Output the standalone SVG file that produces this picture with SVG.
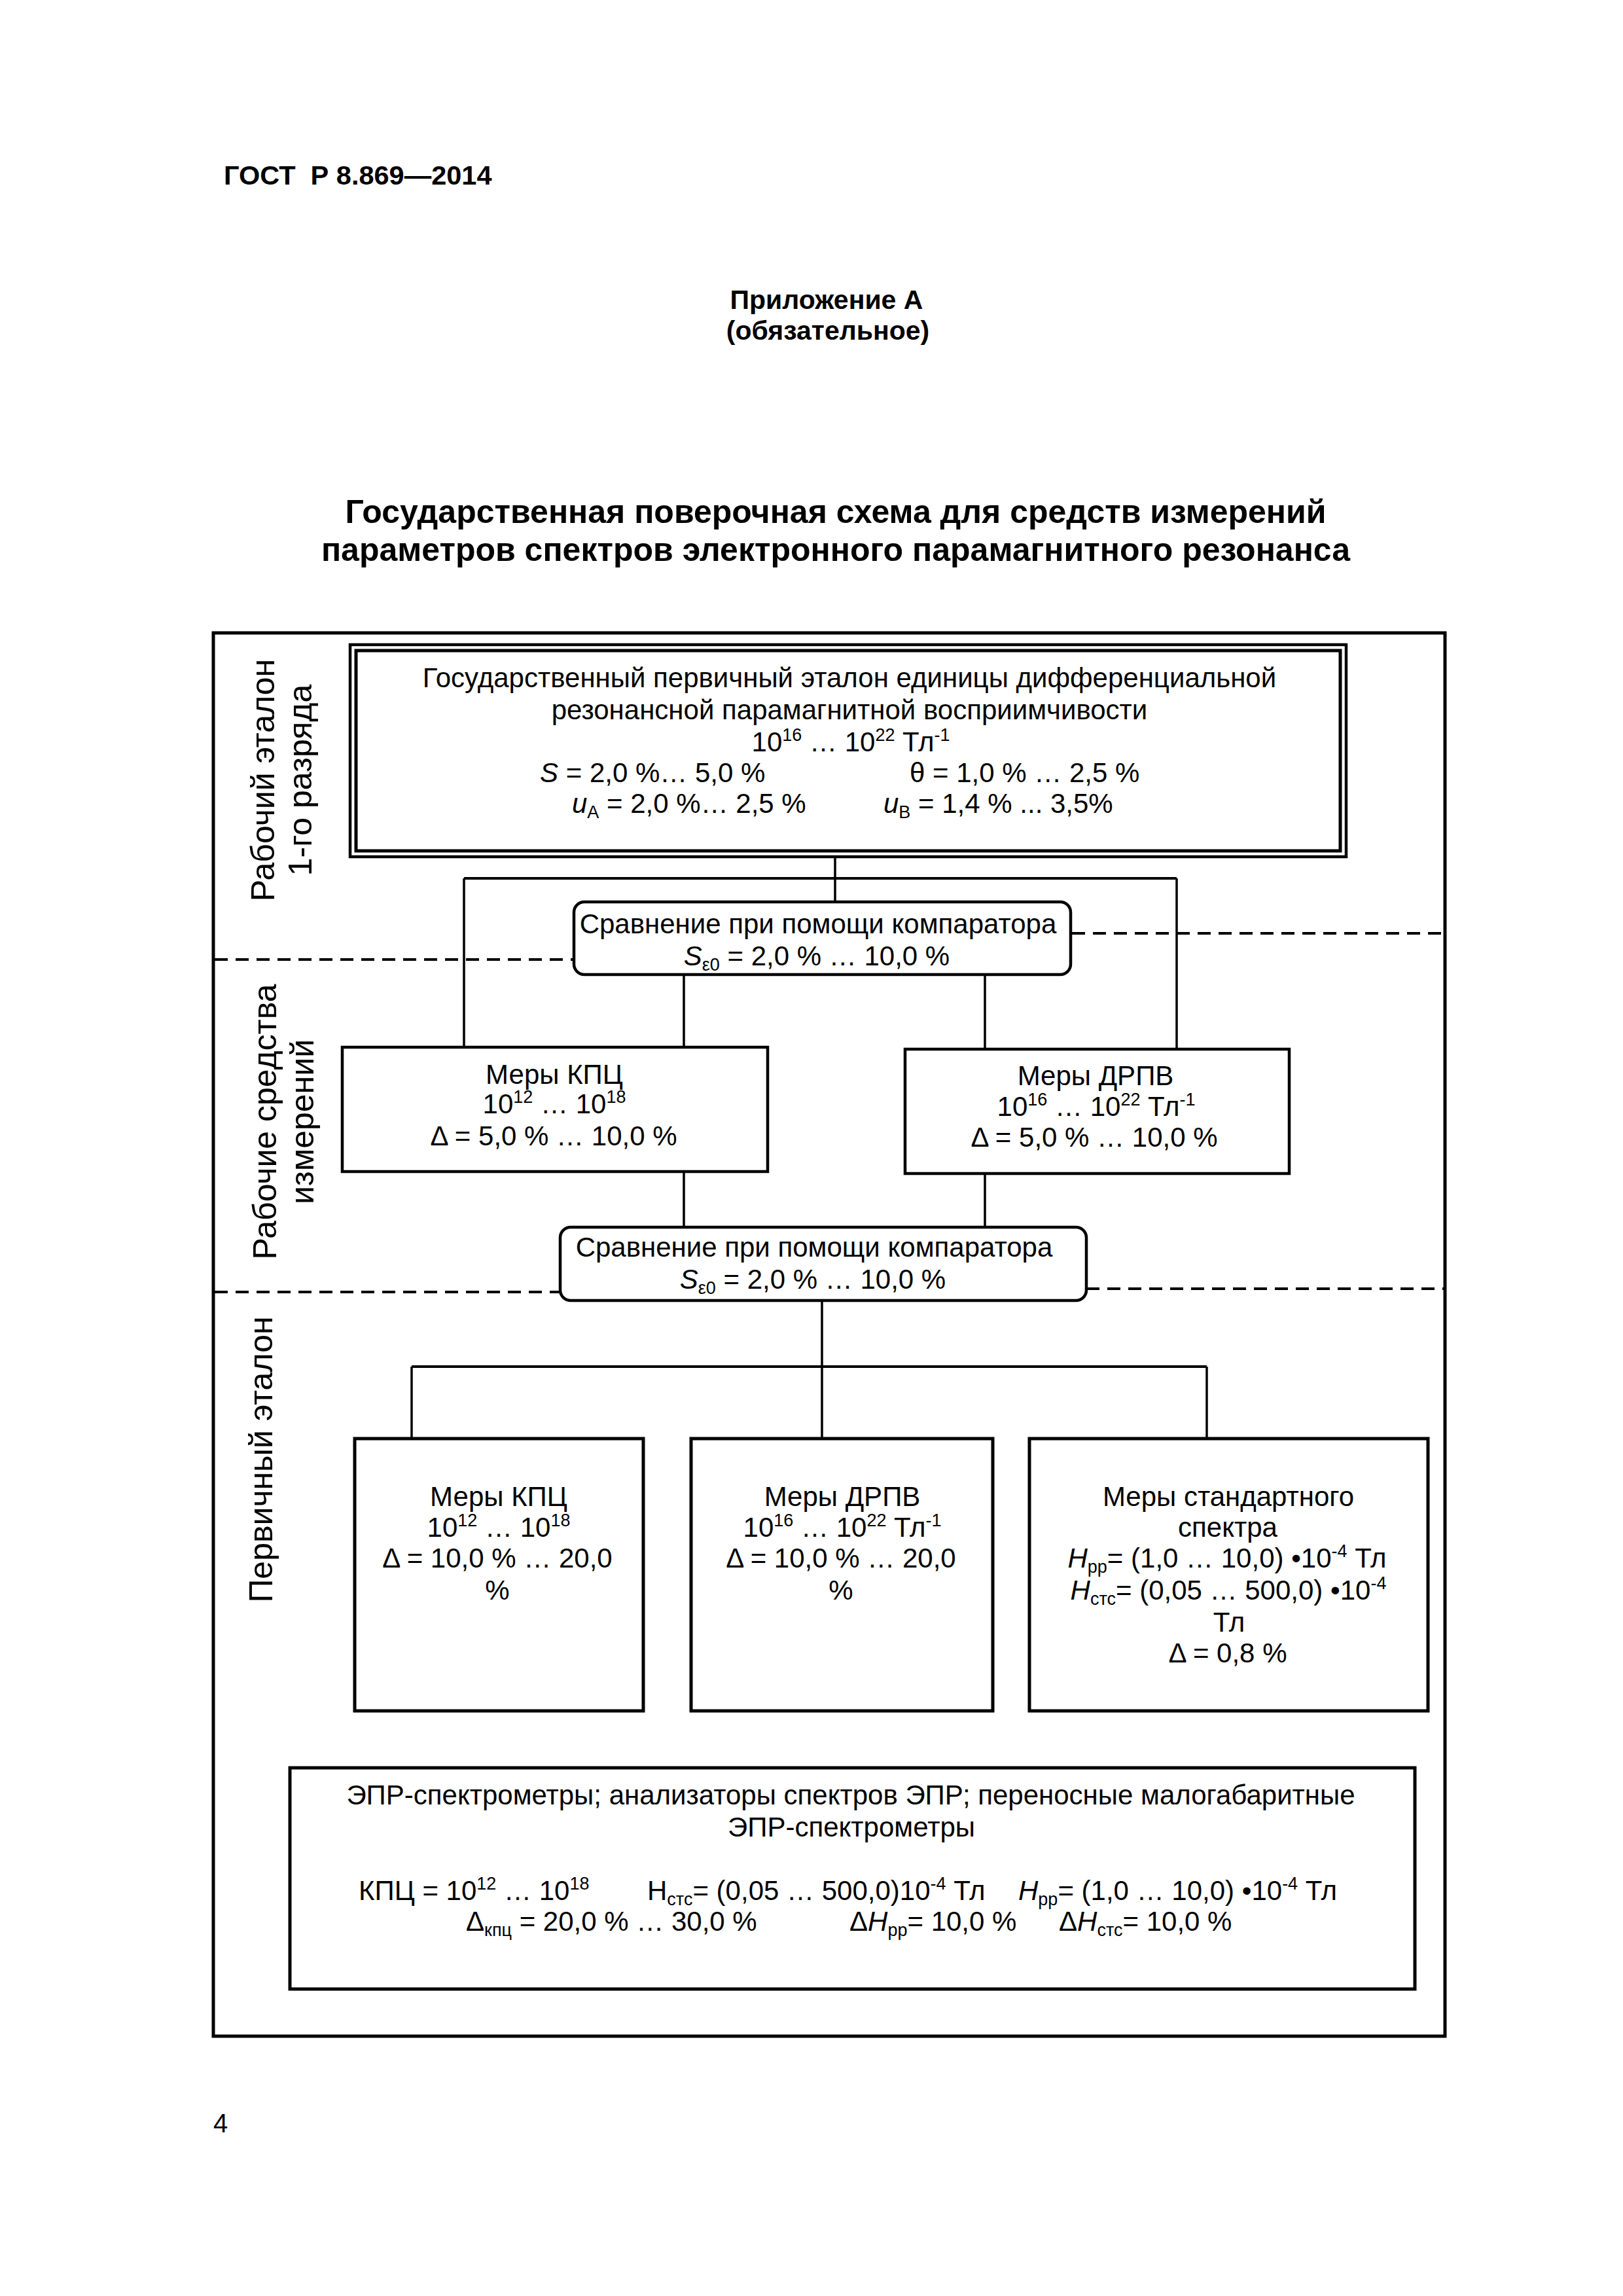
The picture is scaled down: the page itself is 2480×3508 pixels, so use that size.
<svg xmlns="http://www.w3.org/2000/svg" width="2480" height="3508" viewBox="0 0 2480 3508">
<style>
text{font-family:"Liberation Sans",Arial,sans-serif;fill:#000}
.t{font-size:42px}
.c{text-anchor:middle}
.b{font-weight:bold}
.i{font-style:italic}
.s{font-size:27px}
.lbl{font-size:50px;text-anchor:middle}
.box{fill:#fff;stroke:#000;stroke-width:4.5}
.thick{fill:none;stroke:#000;stroke-width:5}
.conn{fill:none;stroke:#000;stroke-width:3.5}
.hconn{fill:none;stroke:#000;stroke-width:4}
.dash{fill:none;stroke:#000;stroke-width:4;stroke-dasharray:20 12}
</style>
<rect width="2480" height="3508" fill="#fff"/>

<g id="header">
<text class="b" x="342" y="282" font-size="41.5">ГОСТ&#160; Р 8.869—2014</text>
<text class="b c" x="1263" y="472" font-size="41">Приложение А</text>
<text class="b c" x="1265" y="519" font-size="41">(обязательное)</text>
<text class="b c" x="1277" y="799" font-size="50">Государственная поверочная схема для средств измерений</text>
<text class="b c" x="1277" y="857" font-size="50">параметров спектров электронного парамагнитного резонанса</text>
</g>

<g id="frame">
<rect x="326" y="967" width="1882" height="2144" class="thick"/>
</g>

<g id="section-labels">
<text class="lbl" transform="translate(419,1192) rotate(-90)">Рабочий эталон</text>
<text class="lbl" transform="translate(476,1192) rotate(-90)">1-го разряда</text>
<text class="lbl" transform="translate(422,1714) rotate(-90)">Рабочие средства</text>
<text class="lbl" transform="translate(479,1714) rotate(-90)">измерений</text>
<text class="lbl" transform="translate(416,2230) rotate(-90)">Первичный эталон</text>
</g>

<g id="connectors">
<line x1="1276" y1="1309" x2="1276" y2="1378" class="conn"/>
<line x1="709" y1="1342" x2="1798" y2="1342" class="hconn"/>
<line x1="709" y1="1342" x2="709" y2="1600" class="conn"/>
<line x1="1798" y1="1342" x2="1798" y2="1603" class="conn"/>
<line x1="1045" y1="1489" x2="1045" y2="1600" class="conn"/>
<line x1="1505" y1="1489" x2="1505" y2="1603" class="conn"/>
<line x1="1045" y1="1790" x2="1045" y2="1875" class="conn"/>
<line x1="1505" y1="1793" x2="1505" y2="1875" class="conn"/>
<line x1="1256" y1="1978" x2="1256" y2="2088" class="conn"/>
<line x1="629" y1="2088" x2="1844" y2="2088" class="hconn"/>
<line x1="629" y1="2088" x2="629" y2="2198" class="conn"/>
<line x1="1256" y1="2088" x2="1256" y2="2198" class="conn"/>
<line x1="1844" y1="2088" x2="1844" y2="2198" class="conn"/>
</g>

<g id="dashed-boundaries">
<line x1="328" y1="1466" x2="927" y2="1466" class="dash"/>
<line x1="1638" y1="1426" x2="2206" y2="1426" class="dash"/>
<line x1="328" y1="1974" x2="856" y2="1974" class="dash"/>
<line x1="1660" y1="1969" x2="2206" y2="1969" class="dash"/>
</g>

<g id="node-primary">
<rect x="535" y="985" width="1522" height="324" fill="#fff" stroke="#000" stroke-width="4.5"/>
<rect x="544" y="994" width="1504" height="306" fill="none" stroke="#000" stroke-width="5"/>
<text class="t c" x="1298" y="1050">Государственный первичный эталон единицы дифференциальной</text>
<text class="t c" x="1298" y="1099">резонансной парамагнитной восприимчивости</text>
<text class="t c" x="1300" y="1148">10<tspan class="s" dy="-16">16</tspan><tspan dy="16"> … 10</tspan><tspan class="s" dy="-16">22</tspan><tspan dy="16"> Тл</tspan><tspan class="s" dy="-16">-1</tspan></text>
<text class="t" x="825" y="1195"><tspan class="i">S</tspan> = 2,0 %… 5,0 %</text>
<text class="t" x="1390" y="1195">θ = 1,0 % … 2,5 %</text>
<text class="t" x="874" y="1242"><tspan class="i">u</tspan><tspan class="s" dy="8">A</tspan><tspan dy="-8"> = 2,0 %… 2,5 %</tspan></text>
<text class="t" x="1350" y="1242"><tspan class="i">u</tspan><tspan class="s" dy="8">B</tspan><tspan dy="-8"> = 1,4 % ... 3,5%</tspan></text>
</g>

<g id="node-comparator-1">
<rect x="877" y="1378" width="759" height="111" rx="16" class="box"/>
<text class="t c" x="1250" y="1426">Сравнение при помощи компаратора</text>
<text class="t c" x="1248" y="1475"><tspan class="i">S</tspan><tspan class="s" dy="8">ε0</tspan><tspan dy="-8"> = 2,0 % … 10,0 %</tspan></text>
</g>

<g id="node-kpc-1">
<rect x="523" y="1600" width="650" height="190" class="box"/>
<text class="t c" x="847" y="1656">Меры КПЦ</text>
<text class="t c" x="847" y="1701">10<tspan class="s" dy="-16">12</tspan><tspan dy="16"> … 10</tspan><tspan class="s" dy="-16">18</tspan></text>
<text class="t c" x="846" y="1750">Δ = 5,0 % … 10,0 %</text>
</g>

<g id="node-drpv-1">
<rect x="1383" y="1603" width="587" height="190" class="box"/>
<text class="t c" x="1674" y="1658">Меры ДРПВ</text>
<text class="t c" x="1675" y="1705">10<tspan class="s" dy="-16">16</tspan><tspan dy="16"> … 10</tspan><tspan class="s" dy="-16">22</tspan><tspan dy="16"> Тл</tspan><tspan class="s" dy="-16">-1</tspan></text>
<text class="t c" x="1672" y="1752">Δ = 5,0 % … 10,0 %</text>
</g>

<g id="node-comparator-2">
<rect x="856" y="1875" width="804" height="112" rx="16" class="box"/>
<text class="t c" x="1244" y="1920">Сравнение при помощи компаратора</text>
<text class="t c" x="1242" y="1969"><tspan class="i">S</tspan><tspan class="s" dy="8">ε0</tspan><tspan dy="-8"> = 2,0 % … 10,0 %</tspan></text>
</g>

<g id="node-kpc-2">
<rect x="542" y="2198" width="441" height="416" class="thick" fill="#fff"/>
<text class="t c" x="762" y="2301">Меры КПЦ</text>
<text class="t c" x="762" y="2348">10<tspan class="s" dy="-16">12</tspan><tspan dy="16"> … 10</tspan><tspan class="s" dy="-16">18</tspan></text>
<text class="t c" x="760" y="2395">Δ = 10,0 % … 20,0</text>
<text class="t c" x="760" y="2444">%</text>
</g>

<g id="node-drpv-2">
<rect x="1056" y="2198" width="461" height="416" class="thick" fill="#fff"/>
<text class="t c" x="1287" y="2301">Меры ДРПВ</text>
<text class="t c" x="1287" y="2348">10<tspan class="s" dy="-16">16</tspan><tspan dy="16"> … 10</tspan><tspan class="s" dy="-16">22</tspan><tspan dy="16"> Тл</tspan><tspan class="s" dy="-16">-1</tspan></text>
<text class="t c" x="1285" y="2395">Δ = 10,0 % … 20,0</text>
<text class="t c" x="1285" y="2444">%</text>
</g>

<g id="node-standard-spectrum">
<rect x="1573" y="2198" width="609" height="416" class="thick" fill="#fff"/>
<text class="t c" x="1877" y="2301">Меры стандартного</text>
<text class="t c" x="1876" y="2348">спектра</text>
<text class="t c" x="1875" y="2395"><tspan class="i">H</tspan><tspan class="s" dy="8">рр</tspan><tspan dy="-8">= (1,0 … 10,0) •10</tspan><tspan class="s" dy="-16">-4</tspan><tspan dy="16"> Тл</tspan></text>
<text class="t c" x="1877" y="2444"><tspan class="i">H</tspan><tspan class="s" dy="8">стс</tspan><tspan dy="-8">= (0,05 … 500,0) •10</tspan><tspan class="s" dy="-16">-4</tspan></text>
<text class="t c" x="1878" y="2493">Тл</text>
<text class="t c" x="1876" y="2540">Δ = 0,8 %</text>
</g>

<g id="node-epr">
<rect x="443" y="2701" width="1719" height="338" class="thick" fill="#fff"/>
<text class="t c" x="1300" y="2757">ЭПР-спектрометры; анализаторы спектров ЭПР; переносные малогабаритные</text>
<text class="t c" x="1301" y="2806">ЭПР-спектрометры</text>
<text class="t" x="548" y="2903">КПЦ = 10<tspan class="s" dy="-16">12</tspan><tspan dy="16">  … 10</tspan><tspan class="s" dy="-16">18</tspan></text>
<text class="t" x="989" y="2903">H<tspan class="s" dy="8">стс</tspan><tspan dy="-8">= (0,05 … 500,0)10</tspan><tspan class="s" dy="-16">-4</tspan><tspan dy="16"> Тл</tspan></text>
<text class="t" x="1556" y="2903"><tspan class="i">H</tspan><tspan class="s" dy="8">рр</tspan><tspan dy="-8">= (1,0 … 10,0) •10</tspan><tspan class="s" dy="-16">-4</tspan><tspan dy="16"> Тл</tspan></text>
<text class="t" x="712" y="2950">Δ<tspan class="s" dy="8">кпц</tspan><tspan dy="-8"> = 20,0 % … 30,0 %</tspan></text>
<text class="t" x="1298" y="2950">Δ<tspan class="i">H</tspan><tspan class="s" dy="8">рр</tspan><tspan dy="-8">=  10,0 %</tspan></text>
<text class="t" x="1618" y="2950">Δ<tspan class="i">H</tspan><tspan class="s" dy="8">стс</tspan><tspan dy="-8">= 10,0 %</tspan></text>
</g>

<g id="footer">
<text x="326" y="3258" font-size="40">4</text>
</g>
</svg>
